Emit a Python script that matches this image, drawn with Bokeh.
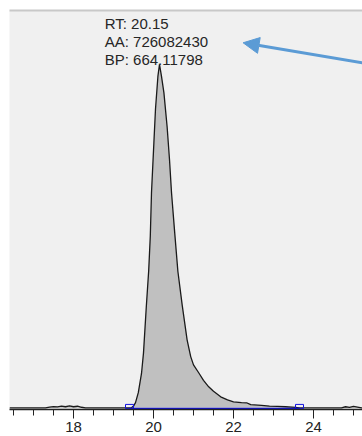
from bokeh.plotting import figure
from bokeh.models import Range1d, LinearAxis, FixedTicker, Label, Arrow, NormalHead, ColumnDataSource
from bokeh.embed import file_html
from bokeh.resources import INLINE

# --- data ---
trace_rt = [16.40, 17.30, 17.40, 17.50, 17.60, 17.70, 17.80, 17.90, 18.00, 18.10, 18.20, 18.30,
            19.40, 19.45, 19.50, 19.55, 19.62, 19.70, 19.75, 19.82, 19.88, 19.92, 19.95, 20.01,
            20.05, 20.11, 20.15, 20.20, 20.26, 20.34, 20.40, 20.45, 20.53, 20.61, 20.72, 20.84,
            20.93, 21.00, 21.13, 21.25, 21.38, 21.50, 21.68, 21.85, 22.00, 22.20, 22.34, 22.43,
            22.70, 22.90, 23.10, 23.30, 23.55, 23.65, 24.70, 24.80, 24.90, 25.00, 25.10, 25.20, 25.30]
trace_int = [0.0, 0.0, 0.2, 0.35, 0.25, 0.5, 0.3, 0.55, 0.3, 0.45, 0.15, 0.0,
             0.0, 0.0, 0.5, 1.5, 4.4, 10.0, 16.0, 29.4, 40.0, 50.0, 62.7, 77.3,
             87.0, 96.5, 100.0, 96.5, 91.8, 81.9, 72.3, 62.7, 51.0, 39.7, 29.7, 19.8,
             14.9, 12.5, 10.2, 8.0, 6.1, 4.8, 3.2, 2.3, 1.7, 1.5, 1.4, 0.9,
             0.7, 0.5, 0.4, 0.3, 0.1, 0.0, 0.0, 0.3, 0.1, 0.4, 0.2, 0.0, 0.0]

peak_start = 19.40
peak_end = 23.65
peak_rt = "20.15"
peak_area = "726082430"
peak_bp = "664.11798"

major_ticks = [18, 20, 22, 24]
minor_ticks = [16.5, 17.0, 17.5, 18.5, 19.0, 19.5, 20.5, 21.0, 21.5, 22.5, 23.0, 23.5, 24.5, 25.0]

# annotation placement (data units)
label_x = 18.78
label_y = [112.0, 106.7, 101.5]
arrow_from = (25.7, 99.5)
arrow_to = (22.24, 106.3)

FONT = "Liberation Sans"

p = figure(width=362, height=436,
           x_range=Range1d(16.4, 25.225), y_range=Range1d(-0.5, 115.7),
           output_backend="svg", toolbar_location=None,
           x_axis_location=None, y_axis_location=None,
           min_border_left=9, min_border_right=0, min_border_top=10, min_border_bottom=27)
p.grid.visible = False
p.background_fill_color = "#f0f0f0"
p.border_fill_color = "white"
p.outline_line_color = None

xaxis = LinearAxis(ticker=FixedTicker(ticks=major_ticks, minor_ticks=minor_ticks),
                   axis_line_color="#222222", axis_line_width=1.5,
                   major_tick_line_color="#222222", minor_tick_line_color="#222222",
                   major_tick_out=9, major_tick_in=0, minor_tick_out=6, minor_tick_in=0,
                   major_label_text_font=FONT, major_label_text_font_size="15px",
                   major_label_text_color="#222222", major_label_standoff=3)
p.add_layout(xaxis, "below")

top = LinearAxis(ticker=FixedTicker(ticks=[]), major_label_text_font_size="0px",
                 major_tick_line_color=None, minor_tick_line_color=None,
                 axis_line_color="#c8c8c8", axis_line_width=2)
p.add_layout(top, "above")

src = ColumnDataSource(dict(rt=trace_rt, inten=trace_int))
p.varea(x="rt", y1=0, y2="inten", source=src, fill_color="#c0c0c0")
p.line(x="rt", y="inten", source=src, line_color="#1a1a1a", line_width=1.3)

# integration baseline and markers
p.line(x=[peak_start, peak_end], y=[-0.2, -0.2], line_color="#1010e0", line_width=1.5)
p.rect(x=[peak_start, peak_end], y=[0.4, 0.4], width=8, height=4,
       width_units="screen", height_units="screen",
       fill_color=None, line_color="#1010e0", line_width=1)

texts = ["RT: " + peak_rt, "AA: " + peak_area, "BP: " + peak_bp]
for t, yy in zip(texts, label_y):
    p.add_layout(Label(x=label_x, y=yy, text=t, text_font=FONT, text_font_size="15px",
                       text_color="#262626", text_baseline="alphabetic"))

p.add_layout(Arrow(end=NormalHead(size=16, fill_color="#5b9bd5", line_color="#5b9bd5"),
                   x_start=arrow_from[0], y_start=arrow_from[1],
                   x_end=arrow_to[0], y_end=arrow_to[1],
                   line_color="#5b9bd5", line_width=3))

open("out.html", "w").write(file_html(p, INLINE))
